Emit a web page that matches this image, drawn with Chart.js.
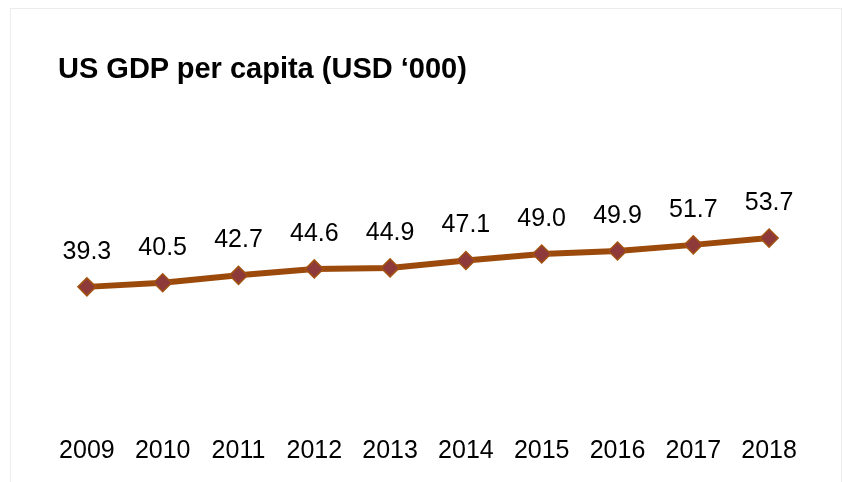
<!DOCTYPE html>
<html>
<head>
<meta charset="utf-8">
<script src="https://cdn.jsdelivr.net/npm/chart.js@4/dist/chart.umd.min.js"></script>
<style>
  html, body { margin:0; padding:0; background:#fff; overflow:hidden; }
  #wrap { position:relative; width:842px; height:482px; }
  #frame { position:absolute; left:10px; top:8px; width:832px; height:500px; border:1px solid #ececec; box-sizing:border-box; }
  #title { position:absolute; left:58px; top:54px; font:bold 29px "Liberation Sans", Arial, sans-serif; line-height:29px; color:#000; white-space:nowrap; }
  canvas { position:absolute; left:0; top:0; }
</style>
</head>
<body>
<div id="wrap">
  <div id="frame"></div>
  <canvas id="c" width="842" height="482"></canvas>
  <div id="title">US GDP per capita (USD ‘000)</div>
</div>
<script>
const years = ['2009','2010','2011','2012','2013','2014','2015','2016','2017','2018'];
const gdpPerCapita = [39.3, 40.5, 42.7, 44.6, 44.9, 47.1, 49.0, 49.9, 51.7, 53.7];

const FONT = '"Liberation Sans", Arial, sans-serif';

const valueLabels = {
  id: 'valueLabels',
  afterDatasetsDraw(chart) {
    const ctx = chart.ctx;
    const meta = chart.getDatasetMeta(0);
    ctx.save();
    ctx.font = '25px ' + FONT;
    ctx.fillStyle = '#000';
    ctx.textAlign = 'center';
    ctx.textBaseline = 'middle';
    meta.data.forEach((pt, i) => {
      ctx.fillText(gdpPerCapita[i].toFixed(1), pt.x, pt.y - 35);
    });
    ctx.restore();
  }
};

new Chart(document.getElementById('c'), {
  type: 'line',
  data: {
    labels: years,
    datasets: [{
      data: gdpPerCapita,
      borderColor: '#9C4A0B',
      borderWidth: 6,
      pointStyle: 'rectRot',
      pointRadius: 9,
      pointBackgroundColor: '#8E3A3A',
      pointBorderColor: '#A3520F',
      pointBorderWidth: 1.5,
      pointHoverRadius: 9,
      tension: 0,
      clip: false
    }]
  },
  options: {
    responsive: false,
    animation: false,
    events: [],
    layout: { padding: { left: 49, right: 35, top: 149, bottom: 0 } },
    plugins: {
      legend: { display: false },
      title: { display: false },
      tooltip: { enabled: false }
    },
    scales: {
      x: {
        offset: true,
        grid: { display: false, drawTicks: false },
        border: { display: false },
        ticks: { color: '#000', font: { family: FONT, size: 25 }, padding: 16, maxRotation: 0 }
      },
      y: {
        display: false,
        min: 0,
        max: 80
      }
    }
  },
  plugins: [valueLabels]
});
</script>
</body>
</html>
